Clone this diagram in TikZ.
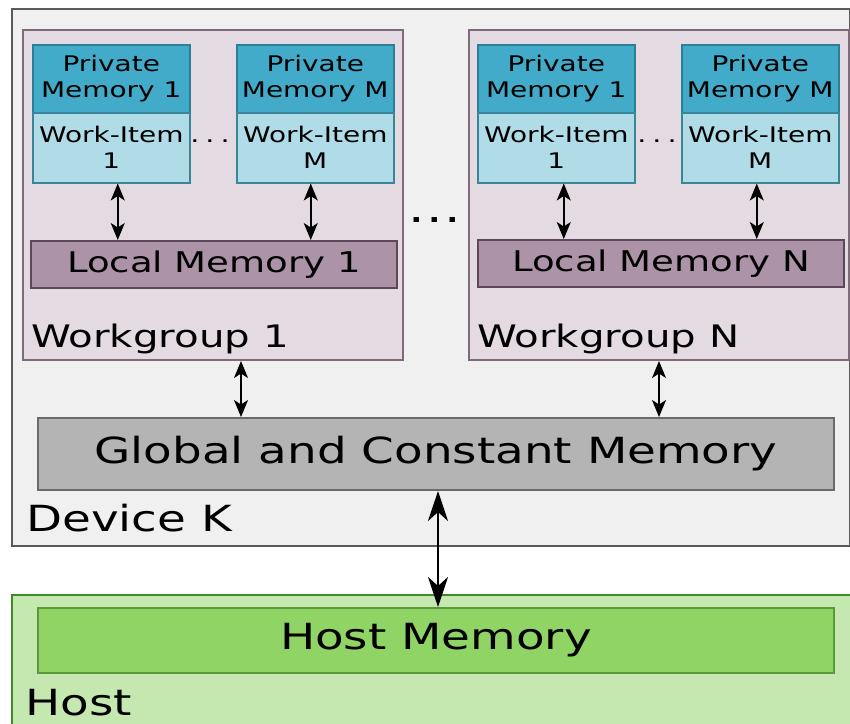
\documentclass[tikz,border=0pt]{standalone}
\usepackage{fontspec}
\setmainfont{DejaVu Sans}[FakeStretch=1.3]
\usetikzlibrary{arrows.meta}
\definecolor{devfill}{HTML}{F0F0F0}
\definecolor{devdraw}{HTML}{5A5A5A}
\definecolor{wgfill}{HTML}{E3DBE1}
\definecolor{wgdraw}{HTML}{7D6B7A}
\definecolor{pmfill}{HTML}{41ABC9}
\definecolor{pmdraw}{HTML}{2E7F95}
\definecolor{wifill}{HTML}{B0DCE8}
\definecolor{widraw}{HTML}{3B8598}
\definecolor{lmfill}{HTML}{AD93A7}
\definecolor{lmdraw}{HTML}{5C4858}
\definecolor{gmfill}{HTML}{B4B4B4}
\definecolor{gmdraw}{HTML}{6A6A6A}
\definecolor{hostfill}{HTML}{C5E8B0}
\definecolor{hostdraw}{HTML}{3E8A2C}
\definecolor{hmfill}{HTML}{8FD464}
\definecolor{hmdraw}{HTML}{5A9A3C}
\begin{document}
\begin{tikzpicture}[x=1pt,y=-1pt,
  box/.style={rectangle, inner sep=0pt, anchor=north west},
  devbox/.style={box, fill=devfill, draw=devdraw, line width=2pt},
  wgbox/.style={box, fill=wgfill, draw=wgdraw, line width=2pt},
  pmbox/.style={box, fill=pmfill, draw=pmdraw, line width=1.5pt, minimum width=157pt, minimum height=68pt, align=center, font=\fontsize{21.5}{26}\selectfont},
  wibox/.style={box, fill=wifill, draw=widraw, line width=1.5pt, minimum width=157pt, minimum height=70pt, align=center, font=\fontsize{21.5}{26}\selectfont},
  lmbox/.style={box, fill=lmfill, draw=lmdraw, line width=2pt, minimum height=47pt, font=\fontsize{28.5}{32}\selectfont},
  gmbox/.style={box, fill=gmfill, draw=gmdraw, line width=2pt, font=\fontsize{36}{40}\selectfont},
  hostbox/.style={box, fill=hostfill, draw=hostdraw, line width=2pt},
  hmbox/.style={box, fill=hmfill, draw=hmdraw, line width=2pt, font=\fontsize{36}{40}\selectfont},
  lbl/.style={inner sep=0pt, anchor=base west},
  sarr/.style={line width=1.6pt, {Stealth[length=17pt,width=14pt,inset=4.5pt]}-{Stealth[length=17pt,width=14pt,inset=4.5pt]}},
  barr/.style={line width=2.8pt, {Stealth[length=30pt,width=20pt,inset=9pt]}-{Stealth[length=30pt,width=20pt,inset=9pt]}}
]
\useasboundingbox (0,0) rectangle (850,723);
\clip (0,0) rectangle (850,723);
\fill[white] (0,0) rectangle (850,723);

% Device
\node[devbox, minimum width=838pt, minimum height=537pt] (dev) at (11,8) {};
\node[lbl, font=\fontsize{36}{40}\selectfont] (devlbl) at (26,531.5) {Device K};

% Workgroup 1
\node[wgbox, minimum width=380pt, minimum height=330pt] (wg1) at (22,29) {};
\node[lbl, font=\fontsize{31}{34}\selectfont] (wg1lbl) at (31,347) {Workgroup 1};
\node[pmbox] (pm11) at (32,44) {Private\\Memory 1};
\node[wibox] (wi11) at (32,112) {Work-Item\\1};
\node[pmbox] (pm1m) at (236,44) {Private\\Memory M};
\node[wibox] (wi1m) at (236,112) {Work-Item\\M};
\node[inner sep=0pt, anchor=base, font=\fontsize{22}{26}\selectfont] (dots1) at (210,142) {.\kern6pt.\kern6pt.};
\node[lmbox, minimum width=366pt] (lm1) at (30,240) {Local Memory 1};

% Workgroup N
\node[wgbox, minimum width=380pt, minimum height=330pt] (wgn) at (468,29) {};
\node[lbl, font=\fontsize{31}{34}\selectfont] (wgnlbl) at (477,347) {Workgroup N};
\node[pmbox] (pmn1) at (477,44) {Private\\Memory 1};
\node[wibox] (win1) at (477,112) {Work-Item\\1};
\node[pmbox] (pmnm) at (681,44) {Private\\Memory M};
\node[wibox] (winm) at (681,112) {Work-Item\\M};
\node[inner sep=0pt, anchor=base, font=\fontsize{22}{26}\selectfont] (dotsn) at (657,142) {.\kern6pt.\kern6pt.};
\node[lmbox, minimum width=366pt] (lmn) at (477,239) {Local Memory N};

% dots between workgroups
\node[inner sep=0pt, anchor=base, font=\fontsize{40}{44}\selectfont] (wgdots) at (435,222.5) {.\kern1.5pt.\kern1.5pt.};

% Global memory
\node[gmbox, minimum width=796pt, minimum height=72pt] (gm) at (37,417) {Global and Constant Memory};

% Host
\node[hostbox, minimum width=860pt, minimum height=150pt] (host) at (11,594) {};
\node[lbl, font=\fontsize{36}{40}\selectfont] (hostlbl) at (25,715) {Host};
\node[hmbox, minimum width=796pt, minimum height=65pt] (hm) at (37,607) {Host Memory};

% arrows
\draw[sarr] ([xshift=6.5pt]wi11.south) -- ([xshift=6.5pt]wi11.south |- lm1.north);
\draw[sarr] ([xshift=-4.5pt]wi1m.south) -- ([xshift=-4.5pt]wi1m.south |- lm1.north);
\draw[sarr] ([xshift=7.5pt]win1.south) -- ([xshift=7.5pt]win1.south |- lmn.north);
\draw[sarr] ([xshift=-3.5pt]winm.south) -- ([xshift=-3.5pt]winm.south |- lmn.north);
\draw[sarr] ([xshift=28pt]wg1.south) -- ([xshift=28pt]wg1.south |- gm.north);
\draw[sarr] (wgn.south) -- (wgn.south |- gm.north);
\draw[barr] ([xshift=2pt]gm.south) -- ([xshift=2pt]gm.south |- hm.north);
\end{tikzpicture}
\end{document}
